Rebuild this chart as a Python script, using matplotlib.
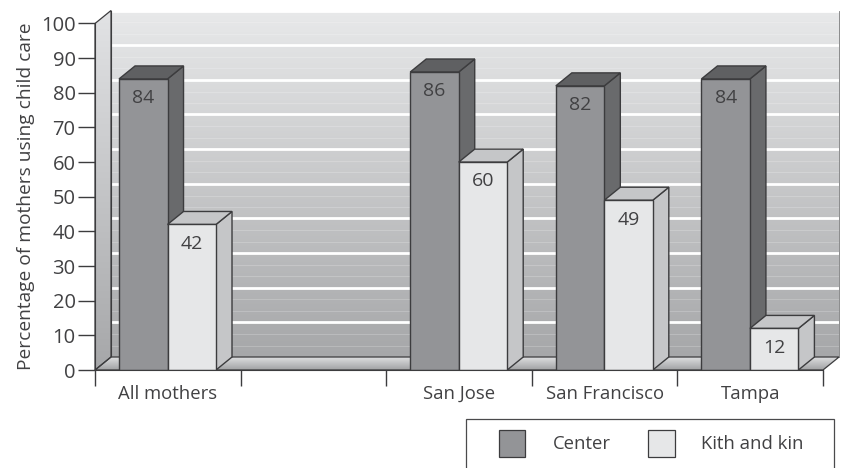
import numpy as np
import matplotlib
matplotlib.use("Agg")
import matplotlib.pyplot as plt
from matplotlib.colors import LinearSegmentedColormap
from matplotlib.patches import Polygon, Rectangle

plt.rcParams['font.family'] = ['Open Sans', 'DejaVu Sans']

categories = ["All mothers", "", "San Jose", "San Francisco", "Tampa"]
center = [84, None, 86, 82, 84]
kith_kin = [42, None, 60, 49, 12]
y_ticks = list(range(0, 101, 10))
faint_lines = [3.3, 6.6]

text_color = "#414143"
edge = "#3c3c3e"
depth_x = 0.11
depth_y = 3.75
bar_w = 0.333
bar_off = 0.165

fig = plt.figure(figsize=(8.44, 4.68), dpi=100)
ax = fig.add_axes([95 / 844, 98 / 468, 728 / 844, 346.5 / 468])
n = len(categories)


def gradient(poly_pts, top, bottom, extent, zorder):
    # fill a polygon with a vertical gradient
    cmap = LinearSegmentedColormap.from_list("g", [top, bottom])
    grad = np.linspace(0, 1, 256).reshape(-1, 1)
    im = ax.imshow(grad, cmap=cmap, aspect="auto", extent=extent, zorder=zorder)
    poly = Polygon(poly_pts, closed=True, transform=ax.transData, facecolor="none", edgecolor="none")
    ax.add_patch(poly)
    im.set_clip_box(fig.bbox)  # the 3d walls stick out of the axes box
    im.set_clip_path(poly)


# back wall
gradient([(depth_x, depth_y), (n + depth_x, depth_y), (n + depth_x, 100 + depth_y), (depth_x, 100 + depth_y)],
         "#e8e9ea", "#a6a7a9", (depth_x, n + depth_x, depth_y, 100 + depth_y), 1)
for v in y_ticks:
    for f in faint_lines:
        if v + f <= 100:
            ax.plot([depth_x, n + depth_x], [v + f + depth_y] * 2, color="white", alpha=0.2, lw=0.7,
                    zorder=1.5, clip_on=False)
    if v > 0:
        ax.plot([depth_x, n + depth_x], [v + depth_y] * 2, color="white", lw=2, zorder=1.6, clip_on=False,
                solid_capstyle="butt")
ax.plot([depth_x, depth_x], [depth_y, 100 + depth_y], color=edge, lw=0.8, zorder=2, clip_on=False)
ax.plot([n + depth_x, n + depth_x], [depth_y, 100 + depth_y], color="#77787a", lw=0.6, zorder=2, clip_on=False)

# left wall
gradient([(0, 0), (depth_x, depth_y), (depth_x, 100 + depth_y), (0, 100)],
         "#e2e3e5", "#a6a7a9", (0, depth_x, 0, 100 + depth_y), 2)
ax.add_patch(Polygon([(0, 0), (depth_x, depth_y), (depth_x, 100 + depth_y), (0, 100)], closed=True,
                     facecolor="none", edgecolor=edge, lw=0.9, zorder=2.5, clip_on=False))

# floor
gradient([(0, 0), (n, 0), (n + depth_x, depth_y), (depth_x, depth_y)],
         "#dedfe0", "#a0a1a3", (0, n + depth_x, 0, depth_y), 2)
ax.add_patch(Polygon([(0, 0), (n, 0), (n + depth_x, depth_y), (depth_x, depth_y)], closed=True,
                     facecolor="none", edgecolor=edge, lw=0.9, zorder=2.5, clip_on=False))


def bar3d(x, h, front, side, top, z):
    ax.add_patch(Polygon([(x + bar_w, 0), (x + bar_w + depth_x, depth_y), (x + bar_w + depth_x, h + depth_y),
                          (x + bar_w, h)], closed=True, facecolor=side, edgecolor=edge, lw=1, zorder=z,
                         clip_on=False))
    ax.add_patch(Polygon([(x, h), (x + bar_w, h), (x + bar_w + depth_x, h + depth_y), (x + depth_x, h + depth_y)],
                         closed=True, facecolor=top, edgecolor=edge, lw=1, zorder=z, clip_on=False))
    ax.bar(x, h, width=bar_w, align="edge", color=front, edgecolor=edge, lw=1, zorder=z + 0.1)
    ax.text(x + bar_w / 2, h - 3.0, str(h), ha="center", va="top", fontsize=14, color=text_color, zorder=z + 0.2)


for i in range(n):
    if center[i] is not None:
        bar3d(i + bar_off, center[i], "#939497", "#696a6c", "#5f6062", 3 + i)
        bar3d(i + bar_off + bar_w, kith_kin[i], "#e6e7e8", "#c5c6c8", "#c5c6c8", 3 + i + 0.5)

ax.set_xlim(0, n)
ax.set_ylim(0, 100)
ax.patch.set_visible(False)
for s in ["top", "right"]:
    ax.spines[s].set_visible(False)
ax.spines["left"].set_color(edge)
ax.spines["bottom"].set_color(edge)
ax.spines["left"].set_zorder(20)
ax.spines["bottom"].set_zorder(20)

ax.set_yticks(y_ticks)
ax.tick_params(axis="y", length=12, width=1, color=edge, labelsize=14.5, labelcolor=text_color, pad=2)
ax.set_xticks(range(n + 1))
ax.set_xticklabels([])
ax.tick_params(axis="x", which="major", length=11.5, width=1, color=edge)
ax.set_xticks(np.arange(n) + 0.5, minor=True)
ax.set_xticklabels(categories, minor=True, fontsize=13.3, color=text_color)
ax.tick_params(axis="x", which="minor", length=0, pad=11)
ax.set_ylabel("Percentage of mothers using child care", fontsize=13.8, color=text_color, labelpad=4)

# legend drawn by hand, the box runs off the bottom of the figure
W, H = 844.0, 468.0


def fig_rect(x0, y0, x1, y1, **kw):
    fig.add_artist(Rectangle((x0 / W, 1 - y1 / H), (x1 - x0) / W, (y1 - y0) / H, transform=fig.transFigure, **kw))


fig_rect(466, 419, 834, 470, facecolor="white", edgecolor="#4a4a4c", lw=0.9)
fig_rect(499, 430, 525, 457, facecolor="#939497", edgecolor=edge, lw=0.9)
fig_rect(648, 430, 675, 457, facecolor="#e6e7e8", edgecolor=edge, lw=0.9)
fig.text(582 / W, 1 - 444 / H, "Center", ha="center", va="center", fontsize=13.3, color=text_color)
fig.text(752 / W, 1 - 444 / H, "Kith and kin", ha="center", va="center", fontsize=13.3, color=text_color)

fig.savefig("out.png", dpi=100)
